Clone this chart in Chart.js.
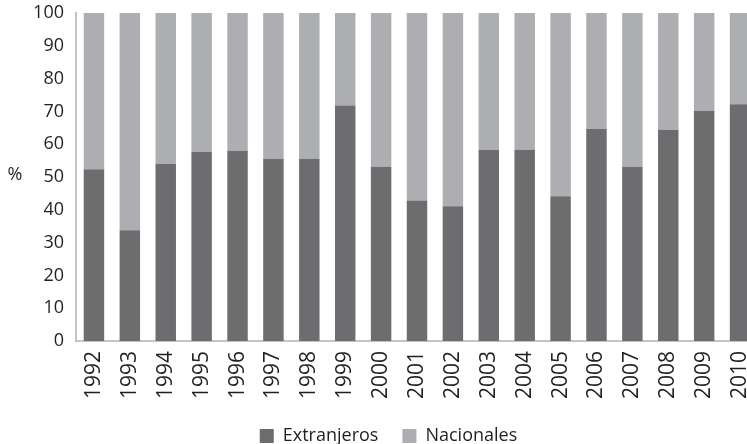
<!DOCTYPE html>
<html>
<head>
<meta charset="utf-8">
<script src="https://cdn.jsdelivr.net/npm/chart.js@4/dist/chart.umd.min.js"></script>
<style>
  html, body { margin: 0; padding: 0; background: #fff; overflow: hidden; }
  #wrap { width: 758px; height: 444px; }
</style>
</head>
<body>
<div id="wrap"><canvas id="chart" width="758" height="444"></canvas></div>
<script>
const years = ['1992', '1993', '1994', '1995', '1996', '1997', '1998', '1999', '2000', '2001',
               '2002', '2003', '2004', '2005', '2006', '2007', '2008', '2009', '2010'];
const extranjeros = [52.4, 33.8, 54.0, 57.6, 58.0, 55.6, 55.6, 71.8, 53.1, 42.8,
                     41.1, 58.3, 58.3, 44.1, 64.6, 53.1, 64.3, 70.2, 72.2];
const nacionales = [47.6, 66.2, 46.0, 42.4, 42.0, 44.4, 44.4, 28.2, 46.9, 57.2,
                    58.9, 41.7, 41.7, 55.9, 35.4, 46.9, 35.7, 29.8, 27.8];
const yTicks = [0, 10, 20, 30, 40, 50, 60, 70, 80, 90, 100];

const fontFamily = '"Open Sans", "Liberation Sans", sans-serif';
const textColor = '#231f20';
const axisColor = '#c4c4c4';

// draws the horizontal "%" label left of the y axis
const percentLabel = {
    id: 'percentLabel',
    afterDraw(chart) {
        let ctx = chart.ctx;
        ctx.save();
        ctx.font = '18px ' + fontFamily;
        ctx.fillStyle = textColor;
        ctx.textAlign = 'center';
        ctx.textBaseline = 'middle';
        ctx.fillText('%', 15, 175);
        ctx.restore();
    }
};

// canvas is a bit wider than the window: the last bar is cut at the right edge
let ctx = document.getElementById('chart').getContext('2d');
new Chart(ctx, {
    type: 'bar',
    data: {
        labels: years,
        datasets: [{
            label: 'Extranjeros',
            data: extranjeros,
            backgroundColor: '#6d6d6f'
        }, {
            label: 'Nacionales',
            data: nacionales,
            backgroundColor: '#adaeb1'
        }]
    },
    options: {
        responsive: false,
        animation: false,
        layout: { padding: { top: 13, left: 19, right: 0, bottom: -11 } },
        datasets: {
            bar: { categoryPercentage: 1, barPercentage: 0.57 }
        },
        plugins: {
            tooltip: { enabled: false },
            legend: {
                position: 'bottom',
                labels: {
                    boxWidth: 14,
                    boxHeight: 14,
                    padding: 24,
                    color: textColor,
                    font: { family: fontFamily, size: 18 }
                }
            }
        },
        scales: {
            x: {
                stacked: true,
                grid: { display: false, drawTicks: false },
                border: { display: true, color: axisColor, width: 2 },
                ticks: {
                    color: textColor,
                    font: { family: fontFamily, size: 21 },
                    minRotation: 90,
                    maxRotation: 90,
                    padding: 10
                },
                afterFit: scale => {
                    scale.height = 62;
                    scale.paddingLeft = 0;
                    scale.paddingRight = 0;
                }
            },
            y: {
                stacked: true,
                min: 0,
                max: 100,
                grid: { display: false, drawTicks: false },
                border: { display: true, color: axisColor, width: 2 },
                afterBuildTicks: scale => { scale.ticks = yTicks.map(v => ({ value: v })); },
                ticks: {
                    color: textColor,
                    font: { family: fontFamily, size: 18 },
                    padding: 12
                },
                afterFit: scale => {
                    scale.width = 57;
                    scale.paddingTop = 0;
                    scale.paddingBottom = 0;
                }
            }
        }
    },
    plugins: [percentLabel]
});
</script>
</body>
</html>
